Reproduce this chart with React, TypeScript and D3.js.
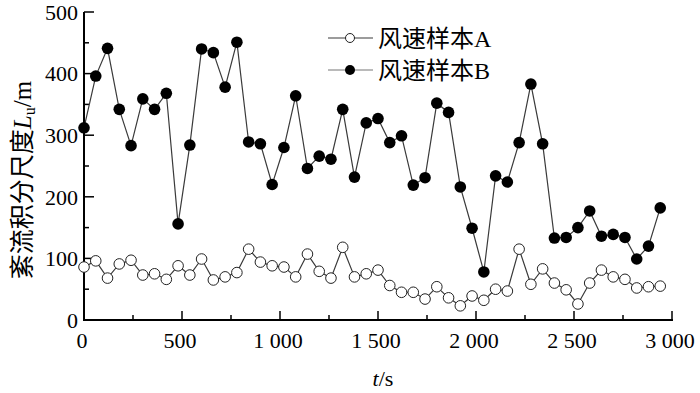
import React from "react";
import * as d3 from "d3";

const times = [0, 60, 120, 180, 240, 300, 360, 420, 480, 540, 600, 660, 720, 780, 840, 900, 960, 1020, 1080, 1140, 1200, 1260, 1320, 1380, 1440, 1500, 1560, 1620, 1680, 1740, 1800, 1860, 1920, 1980, 2040, 2100, 2160, 2220, 2280, 2340, 2400, 2460, 2520, 2580, 2640, 2700, 2760, 2820, 2880, 2940];
const seriesA = [86, 96, 68, 91, 97, 73, 75, 66, 88, 73, 99, 65, 70, 77, 115, 94, 88, 86, 70, 107, 79, 68, 118, 70, 75, 81, 56, 45, 45, 34, 54, 36, 23, 39, 32, 50, 47, 115, 58, 83, 60, 49, 26, 60, 81, 70, 66, 52, 54, 55];
const seriesB = [312, 396, 441, 342, 283, 359, 342, 368, 156, 284, 440, 434, 378, 451, 289, 286, 220, 280, 364, 246, 266, 261, 342, 232, 320, 327, 288, 299, 219, 231, 352, 337, 216, 149, 78, 234, 224, 288, 383, 286, 133, 134, 150, 177, 136, 139, 134, 99, 120, 182];
const seriesNames = ["风速样本A", "风速样本B"];
const xTicks = [0, 500, 1000, 1500, 2000, 2500, 3000];
const xMinorTicks = [250, 750, 1250, 1750, 2250, 2750];
const yTicks = [0, 100, 200, 300, 400, 500];
const yMinorTicks = [50, 150, 250, 350, 450];

const LATIN = "'Liberation Serif', 'Times New Roman', serif";
const CJK = "'Noto Sans CJK SC', sans-serif";

export default function App() {
  const x = d3.scaleLinear().domain([0, 3000]).range([84, 672]);
  const y = d3.scaleLinear().domain([0, 500]).range([320, 12]);
  const fmt = (v: number) => (v >= 1000 ? `${Math.floor(v / 1000)} ${String(v % 1000).padStart(3, "0")}` : String(v));

  const lineGen = (vals: number[]) =>
    d3.line<number>().x((_, i) => x(times[i])).y((v) => y(v))(vals) || "";

  const lineColor = "#3a3a3a";

  return (
    <svg width={700} height={393} style={{ position: "absolute", left: 0, top: 0, background: "#fff" }}>
      <rect x={0} y={0} width={700} height={393} fill="#fff" />
      {/* axes */}
      <line x1={84} x2={84} y1={y(500)} y2={y(0) + 1} stroke="#000" strokeWidth={2} />
      <line x1={83} x2={x(3000) + 1} y1={y(0)} y2={y(0)} stroke="#000" strokeWidth={2} />
      {yTicks.map((t) => (
        <g key={"yt" + t}>
          {t > 0 && <line x1={84} x2={94} y1={y(t)} y2={y(t)} stroke="#000" strokeWidth={1.5} />}
          <text x={78} y={y(t)} dy="0.35em" textAnchor="end" fontFamily={LATIN} fontSize={22} fill="#000">
            {t}
          </text>
        </g>
      ))}
      {yMinorTicks.map((t) => (
        <line key={"ym" + t} x1={84} x2={89} y1={y(t)} y2={y(t)} stroke="#000" strokeWidth={1.5} />
      ))}
      {xTicks.map((t) => (
        <g key={"xt" + t}>
          {t > 0 && <line x1={x(t)} x2={x(t)} y1={y(0)} y2={y(0) - 9} stroke="#000" strokeWidth={1.5} />}
          <text x={x(t) - 2} y={348} textAnchor="middle" fontFamily={LATIN} fontSize={22} fill="#000">
            {fmt(t)}
          </text>
        </g>
      ))}
      {xMinorTicks.map((t) => (
        <line key={"xm" + t} x1={x(t)} x2={x(t)} y1={y(0)} y2={y(0) - 5} stroke="#000" strokeWidth={1.5} />
      ))}

      {/* axis titles */}
      <text x={383} y={386} textAnchor="middle" fontFamily={LATIN} fontSize={22} fill="#000">
        <tspan fontStyle="italic">t</tspan>
        <tspan>/s</tspan>
      </text>
      <text
        transform={`translate(31, 180) rotate(-90)`}
        textAnchor="middle"
        fontSize={25}
        fill="#000"
      >
        <tspan fontFamily={CJK}>紊流积分尺度</tspan>
        <tspan fontFamily={LATIN} fontStyle="italic">L</tspan>
        <tspan fontFamily={LATIN} fontSize={16} dy={4}>u</tspan>
        <tspan fontFamily={LATIN} dy={-4}>/m</tspan>
      </text>

      {/* lines */}
      <path d={lineGen(seriesB)} fill="none" stroke={lineColor} strokeWidth={1.2} />
      <path d={lineGen(seriesA)} fill="none" stroke={lineColor} strokeWidth={1.2} />
      {seriesB.map((v, i) => (
        <circle key={"b" + i} cx={x(times[i])} cy={y(v)} r={5.8} fill="#000" />
      ))}
      {seriesA.map((v, i) => (
        <circle key={"a" + i} cx={x(times[i])} cy={y(v)} r={5.3} fill="#fff" stroke="#222" strokeWidth={1} />
      ))}

      {/* legend */}
      <line x1={328} x2={373} y1={38} y2={38} stroke={lineColor} strokeWidth={1.2} />
      <circle cx={350} cy={38} r={4.5} fill="#fff" stroke="#222" strokeWidth={1} />
      <text x={378} y={38} dy="0.36em" fontSize={24} fill="#000">
        <tspan fontFamily={CJK}>{seriesNames[0].slice(0, 4)}</tspan>
        <tspan fontFamily={LATIN}>{seriesNames[0].slice(4)}</tspan>
      </text>
      <line x1={328} x2={373} y1={70} y2={70} stroke="#777" strokeWidth={1.2} />
      <circle cx={350} cy={70} r={5} fill="#000" />
      <text x={378} y={70} dy="0.36em" fontSize={24} fill="#000">
        <tspan fontFamily={CJK}>{seriesNames[1].slice(0, 4)}</tspan>
        <tspan fontFamily={LATIN}>{seriesNames[1].slice(4)}</tspan>
      </text>
    </svg>
  );
}
